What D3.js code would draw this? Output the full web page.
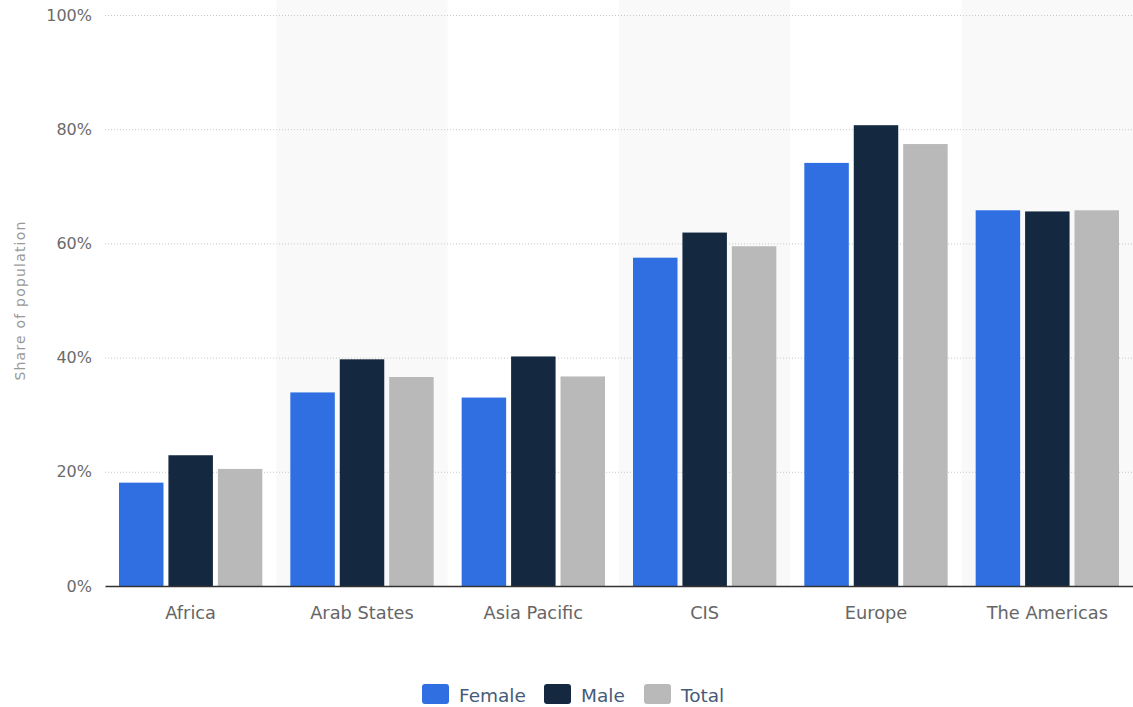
<!DOCTYPE html>
<html>
<head>
<meta charset="utf-8">
<script src="https://cdn.jsdelivr.net/npm/d3@7"></script>
<style>
  body { margin: 0; background: #fff; }
  svg { display: block; font-family: "DejaVu Sans", sans-serif; }
</style>
</head>
<body>
<svg width="1133" height="707"></svg>
<script>
// regions and series values (share of population, %)
const regions = ["Africa", "Arab States", "Asia Pacific", "CIS", "Europe", "The Americas"];
const seriesNames = ["Female", "Male", "Total"];
const female = [18.1, 33.9, 33.0, 57.5, 74.1, 65.8];
const male = [22.9, 39.7, 40.2, 61.9, 80.7, 65.6];
const total = [20.5, 36.6, 36.7, 59.5, 77.4, 65.8];
const yTicks = [0, 20, 40, 60, 80, 100];

const colors = ["#2f6fe1", "#14283f", "#b9b9b9"];
const seriesValues = [female, male, total];

const svg = d3.select("svg");
const margin = { top: 15, right: 0, bottom: 121, left: 105 };
const width = 1133 - margin.left - margin.right;
const height = 707 - margin.top - margin.bottom;

const g = svg.append("g").attr("transform", `translate(${margin.left},${margin.top})`);

const x0 = d3.scaleBand().domain(regions).range([0, width]).paddingInner(0).paddingOuter(0);
const x1 = d3.scaleBand().domain(seriesNames).range([14, x0.bandwidth() - 14]).paddingInner(0.1);
const y = d3.scaleLinear().domain([0, 100]).range([height, 0]);

// alternating band shading
g.selectAll("rect.band")
  .data(regions.filter((d, i) => i % 2 === 1))
  .enter().append("rect")
  .attr("class", "band")
  .attr("x", d => x0(d))
  .attr("y", y(100) - 15)
  .attr("width", x0.bandwidth())
  .attr("height", height + 15)
  .attr("fill", "#f9f9f9");

// gridlines
g.selectAll("line.grid")
  .data(yTicks.filter(d => d > 0))
  .enter().append("line")
  .attr("class", "grid")
  .attr("x1", 0).attr("x2", width)
  .attr("y1", d => y(d) + 0.5).attr("y2", d => y(d) + 0.5)
  .attr("stroke", "#c8c8c8")
  .attr("stroke-width", 1)
  .attr("stroke-dasharray", "1,2");

// y axis labels
const yAxis = d3.axisLeft(y).tickValues(yTicks).tickFormat(d => d + "%").tickSize(0).tickPadding(13);
g.append("g").call(yAxis)
  .call(a => a.select(".domain").remove())
  .selectAll("text")
  .attr("font-size", 16)
  .attr("font-family", "DejaVu Sans, sans-serif")
  .attr("fill", "#6b6b6b");

// bars
const groups = g.selectAll("g.region")
  .data(regions)
  .enter().append("g")
  .attr("class", "region")
  .attr("transform", d => `translate(${x0(d)},0)`);

groups.selectAll("rect")
  .data((d, i) => seriesNames.map((s, j) => ({ s, v: seriesValues[j][i], c: colors[j] })))
  .enter().append("rect")
  .attr("x", d => x1(d.s))
  .attr("y", d => y(d.v))
  .attr("width", x1.bandwidth())
  .attr("height", d => height - y(d.v))
  .attr("fill", d => d.c);

// x axis
const xAxis = d3.axisBottom(x0).tickSize(0).tickPadding(20);
const xa = g.append("g").attr("transform", `translate(0,${height})`).call(xAxis);
xa.select(".domain").attr("stroke", "#333").attr("stroke-width", 1.5);
xa.selectAll("text")
  .attr("font-size", 17.8)
  .attr("font-family", "DejaVu Sans, sans-serif")
  .attr("fill", "#666");

// y axis title
svg.append("text")
  .attr("transform", `translate(25,${margin.top + height / 2}) rotate(-90)`)
  .attr("text-anchor", "middle")
  .attr("font-size", 14)
  .attr("letter-spacing", 1.2)
  .attr("fill", "#999")
  .text("Share of population");

// legend
const legendX = [422, 544, 644];
const legend = svg.append("g").attr("transform", "translate(0,684)");
const li = legend.selectAll("g")
  .data(seriesNames)
  .enter().append("g")
  .attr("transform", (d, i) => `translate(${legendX[i]},0)`);
li.append("rect")
  .attr("width", 27).attr("height", 20).attr("rx", 3)
  .attr("fill", (d, i) => colors[i]);
li.append("text")
  .attr("x", 37).attr("y", 18)
  .attr("font-size", 18.5)
  .attr("fill", "#465b7a")
  .text(d => d);
</script>
</body>
</html>
